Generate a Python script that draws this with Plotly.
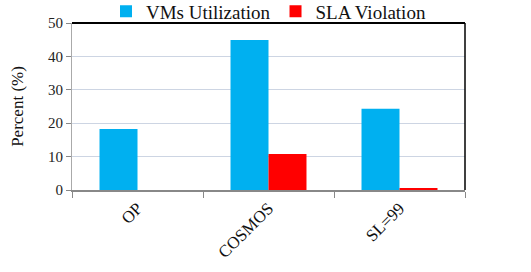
import plotly.graph_objects as go

categories = ["OP", "COSMOS", "SL=99"]
vm_util = [18.3, 44.9, 24.3]
sla_violation = [0, 10.8, 0.6]
y_ticks = [0, 10, 20, 30, 40, 50]

fig = go.Figure()
fig.add_trace(go.Bar(name="VMs Utilization", x=categories, y=vm_util, marker=dict(color="#00B0F0", line=dict(width=0))))
fig.add_trace(go.Bar(name="SLA Violation", x=categories, y=sla_violation, marker=dict(color="#FF0000", line=dict(width=0))))

font_family = "Liberation Serif, Times New Roman, serif"
fig.update_layout(
    width=531, height=272,
    margin=dict(l=72, r=66, t=23, b=82, autoexpand=False),
    paper_bgcolor="white", plot_bgcolor="white",
    barmode="group", bargap=0.42, bargroupgap=0,
    font=dict(family=font_family, color="#222222"),
    legend=dict(orientation="h", x=0.5, xanchor="center", y=1.07, yanchor="middle",
                font=dict(size=19, family=font_family, color="#111111"),
                itemwidth=30, tracegroupgap=0, bgcolor="rgba(0,0,0,0)"),
    xaxis=dict(tickangle=-45, tickson="boundaries", ticks="outside", ticklen=6,
               tickcolor="#888888", showline=True, linecolor="#888888", linewidth=1.5,
               tickfont=dict(size=17, family=font_family, color="#111111"), showgrid=False),
    yaxis=dict(range=[0, 50], tickvals=y_ticks, ticks="outside", ticklen=5,
               tickcolor="#888888", showline=True, linecolor="#AAAAAA", linewidth=1,
               showgrid=True, gridcolor="#CDD5E3", gridwidth=1.2, zeroline=False,
               tickfont=dict(size=15, family=font_family, color="#222222"),
               title=dict(text="Percent (%)", font=dict(size=17, family=font_family, color="#111111"), standoff=20)),
    shapes=[
        dict(type="line", xref="paper", yref="paper", x0=0, x1=1, y0=1, y1=1, line=dict(color="black", width=2)),
        dict(type="line", xref="paper", yref="paper", x0=1, x1=1, y0=0, y1=1, line=dict(color="black", width=1.5)),
    ],
)
fig.write_html("out.html")
